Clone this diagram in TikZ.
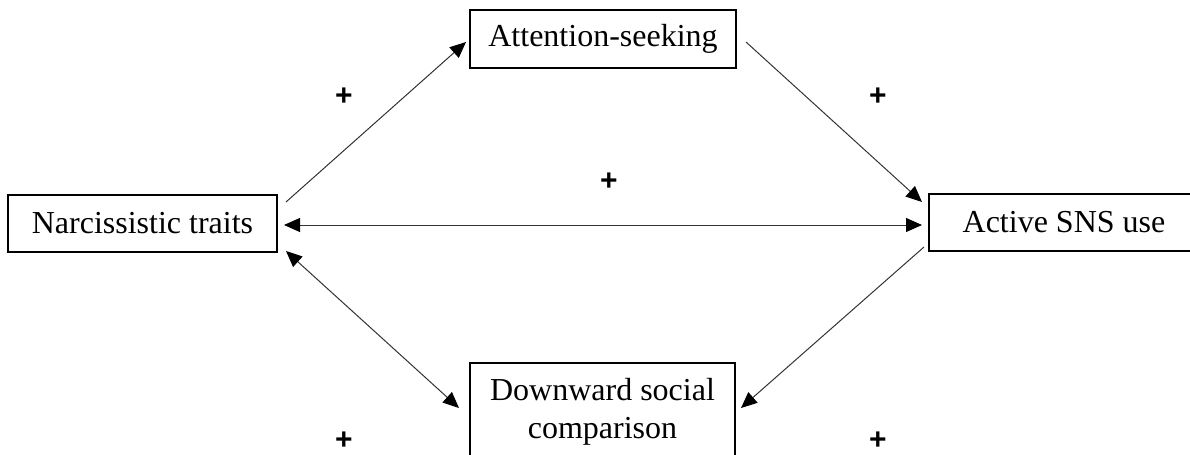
\documentclass[tikz,border=0pt]{standalone}
\usepackage{fontspec}
\setmainfont{Liberation Serif}
\newfontfamily\signfont{Liberation Sans}
\usetikzlibrary{arrows.meta}
\tikzset{
  construct/.style={
    draw,
    line width=1pt,
    align=center,
    inner sep=0pt,
    font=\fontsize{16}{19}\selectfont
  },
  path/.style={
    draw,
    line width=0.5pt,
    black!80,
    -{Triangle[length=8pt,width=7pt,black]}
  },
  twoway/.style={
    path,
    {Triangle[length=8pt,width=7pt,black]}-{Triangle[length=8pt,width=7pt,black]}
  },
  sign/.style={
    font=\signfont\fontsize{15}{17}\selectfont\bfseries
  }
}

\begin{document}
\begin{tikzpicture}[x=0.5pt,y=-0.5pt]
  \useasboundingbox (0,0) rectangle (1190,455);
  \node[construct, minimum width=134.5pt, minimum height=28.5pt] (narc) at (142.5,223.5) {Narcissistic traits};
  \node[construct, minimum width=133pt, minimum height=29pt] (att) at (603,39) {Attention-seeking};
  \node[construct, minimum width=135pt, minimum height=28.5pt] (act) at (1064,222.5) {Active SNS use};
  \node[construct, minimum width=132.5pt, minimum height=49pt] (down) at (602.5,412) {Downward social\\comparison};

  \draw[path] ([xshift=4pt,yshift=-4pt]narc.north east) -- ([xshift=-1.5pt,yshift=-1.5pt]att.west);
  \draw[path] ([xshift=4.5pt,yshift=-1.5pt]att.east) -- ([xshift=-3pt,yshift=-4.5pt]act.north west);
  \draw[twoway] ([xshift=3pt,yshift=-0.75pt]narc.east) -- ([xshift=-3pt,yshift=-0.75pt]narc.east -| act.west);
  \draw[twoway] ([xshift=4pt,yshift=1pt]narc.south east) -- ([xshift=-5pt,yshift=2pt]down.west);
  \draw[path] ([xshift=-2pt,yshift=2.5pt]act.south west) -- ([xshift=2.5pt,yshift=2pt]down.east);

  \node[sign] (s1) at (344,97) {+};
  \node[sign] (s2) at (878,97) {+};
  \node[sign] (s3) at (609,182) {+};
  \node[sign] (s4) at (344,441) {+};
  \node[sign] (s5) at (878,441) {+};
\end{tikzpicture}
\end{document}
